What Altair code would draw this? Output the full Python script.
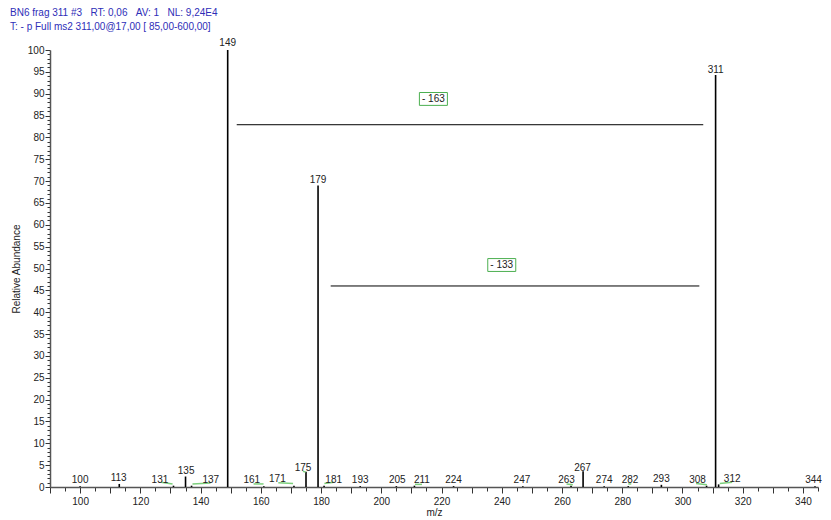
import altair as alt
import pandas as pd

# Peaks (m/z, relative abundance)
peak_mz = [100, 113, 131, 135, 137, 149, 161, 171, 175, 179, 181, 193, 205, 211,
           224, 247, 263, 267, 274, 282, 293, 308, 311, 312, 344]
peak_int = [0.2, 0.7, 0.3, 2.4, 0.3, 100, 0.2, 0.3, 3.5, 69, 0.3, 0.2, 0.2, 0.3,
            0.2, 0.2, 0.3, 3.6, 0.2, 0.2, 0.5, 0.3, 94.3, 0.6, 0.2]
# Where each peak label sits (m/z, relative abundance of the text baseline)
label_x = [100, 112.8, 126.5, 135.2, 143.4, 149, 157.0, 165.5, 174.0, 179, 184.2,
           193, 205.3, 213.5, 224, 246.7, 261.5, 266.8, 274, 282.6, 293, 305.0,
           311, 316.5, 343.5]
label_y = [0.9, 1.4, 0.9, 3.0, 0.9, 101, 0.9, 1.1, 3.6, 69.5, 0.9, 0.9, 0.9, 0.9,
           0.9, 0.9, 0.9, 3.6, 0.9, 0.9, 1.1, 0.9, 94.8, 1.1, 0.9]

# Green connector segments between displaced labels and peaks
g_x1 = [126.9, 137.3, 157.6, 165.8, 174.0, 181.1, 211.2, 261.5, 282.0, 304.5, 312.4]
g_x2 = [130.7, 143.3, 160.9, 170.7, 174.9, 184.2, 213.5, 263.6, 283.0, 308.1, 316.5]
g_y1 = [1.1, 0.7, 0.7, 1.0, 3.6, 0.8, 0.6, 0.7, 0.7, 0.8, 0.8]
g_y2 = [0.7, 0.9, 0.7, 0.8, 3.4, 1.1, 0.6, 0.5, 0.7, 0.5, 1.1]

# Neutral loss annotations
loss_label = ["- 163", "- 133"]
loss_x1 = [152.0, 183.2]
loss_x2 = [306.9, 305.6]
loss_y = [82.9, 46.0]
loss_lab_x = [217.3, 240.0]
loss_lab_y = [88.8, 50.8]

NB = "\u00a0"
header_lines = [f"BN6 frag 311 #3{NB*3}RT: 0,06{NB*3}AV: 1{NB*3}NL: 9,24E4",
                "T: - p Full ms2 311,00@17,00 [ 85,00-600,00]"]

peaks = pd.DataFrame({"mz": peak_mz, "ab": peak_int, "lx": label_x, "ly": label_y,
                      "lab": [str(m) for m in peak_mz]})
greens = pd.DataFrame({"x1": g_x1, "x2": g_x2, "y1": g_y1, "y2": g_y2})
losses = pd.DataFrame({"x1": loss_x1, "x2": loss_x2, "y": loss_y,
                       "lx": loss_lab_x, "ly": loss_lab_y, "lab": loss_label})

FONT = "Liberation Sans"
xscale = alt.Scale(domain=[90, 345], nice=False, zero=False)
yscale = alt.Scale(domain=[0, 100], nice=False)

xaxis = alt.Axis(
    title="m/z", values=list(range(90, 346, 5)),
    labelExpr="datum.value % 20 == 0 ? datum.label : ''",
    tickSize={"condition": {"test": "datum.value % 10 == 0", "value": 6}, "value": 4},
    labelPadding=3, titlePadding=1, grid=False,
)
yaxis = alt.Axis(
    title="Relative Abundance", values=list(range(0, 101)),
    labelExpr="datum.value % 5 == 0 ? datum.label : ''",
    tickSize={"condition": {"test": "datum.value % 5 == 0", "value": 5}, "value": 3},
    labelPadding=1, titlePadding=6, grid=False,
)


def X(field):
    return alt.X(field, type="quantitative", scale=xscale, axis=xaxis)


def Y(field):
    return alt.Y(field, type="quantitative", scale=yscale, axis=yaxis)


base_peaks = alt.Chart(peaks)

rules = base_peaks.mark_rule(color="black", strokeWidth=1.6).encode(
    x=X("mz"), y=Y("ab"), y2=alt.datum(0),
)

labels = base_peaks.mark_text(baseline="alphabetic", font=FONT, fontSize=10,
                              color="#222").encode(
    x=X("lx"), y=Y("ly"), text="lab:N",
)

green = alt.Chart(greens).mark_rule(color="#7ccf7c", strokeWidth=1.5).encode(
    x=X("x1"), x2="x2:Q", y=Y("y1"), y2="y2:Q",
)

loss_lines = alt.Chart(losses).mark_rule(color="black", strokeWidth=1).encode(
    x=X("x1"), x2="x2:Q", y=Y("y"),
)

loss_boxes = alt.Chart(losses).mark_point(
    shape="M-1,-0.46H1V0.46H-1Z", size=784, filled=False, fill="white",
    fillOpacity=1, stroke="#4caf50", strokeWidth=1, opacity=1,
).encode(x=X("lx"), y=Y("ly"))

loss_text = alt.Chart(losses).mark_text(font=FONT, fontSize=10, color="#222",
                                        baseline="middle").encode(
    x=X("lx"), y=Y("ly"), text="lab:N",
)

header1 = alt.Chart(pd.DataFrame({"t": [header_lines[0]]})).mark_text(
    font=FONT, fontSize=10, color="#2e2eb8", align="left", baseline="middle",
).encode(x=alt.value(-40), y=alt.value(-37), text="t:N")

header2 = alt.Chart(pd.DataFrame({"t": [header_lines[1]]})).mark_text(
    font=FONT, fontSize=10, color="#2e2eb8", align="left", baseline="middle",
).encode(x=alt.value(-40), y=alt.value(-23), text="t:N")

chart = alt.layer(rules, green, labels, loss_lines, loss_boxes, loss_text,
                  header1, header2).properties(
    width=768, height=437,
    autosize=alt.AutoSizeParams(type="none"),
    padding={"left": 42, "top": 42, "right": 5, "bottom": 30},
).configure_view(stroke=None).configure_axis(
    labelFont=FONT, labelFontSize=10, labelColor="#222",
    titleFont=FONT, titleFontSize=10, titleFontWeight="normal", titleColor="#222",
    domainColor="#555", domainWidth=1.5, tickColor="#333", tickWidth=1,
)

chart.save("out.html", embed_options={"renderer": "svg", "actions": False})
